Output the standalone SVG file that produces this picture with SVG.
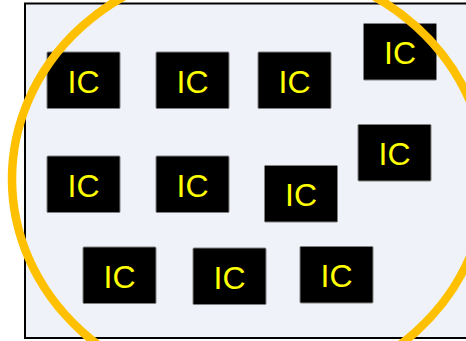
<svg xmlns="http://www.w3.org/2000/svg" width="466" height="341" viewBox="0 0 466 341">
<style>
.bg{fill:#eff3f9;stroke:#000;stroke-width:2}
.ic rect{fill:#000;stroke:#808080;stroke-width:1}
.ic text{fill:#ffff00;font-family:"Liberation Sans",Arial,sans-serif;font-size:32px;text-anchor:middle}
.ring{fill:none;stroke:#ffc000;stroke-width:8.5}
</style>
<rect class="bg" x="25" y="3.5" width="460" height="334.5"/>
<g id="ic1" class="ic"><rect x="47" y="52" width="73" height="56.5" rx="1"/><text x="83.5" y="92.5">IC</text></g>
<g id="ic2" class="ic"><rect x="156" y="52" width="73" height="56.5" rx="1"/><text x="192.5" y="92.5">IC</text></g>
<g id="ic3" class="ic"><rect x="258" y="52" width="73" height="56.5" rx="1"/><text x="294.5" y="92.5">IC</text></g>
<g id="ic4" class="ic"><rect x="363.5" y="23.5" width="73" height="56.5" rx="1"/><text x="400" y="64">IC</text></g>
<g id="ic5" class="ic"><rect x="47" y="156" width="73" height="56.5" rx="1"/><text x="83.5" y="196.5">IC</text></g>
<g id="ic6" class="ic"><rect x="156" y="156" width="73" height="56.5" rx="1"/><text x="192.5" y="196.5">IC</text></g>
<g id="ic7" class="ic"><rect x="264.5" y="165.5" width="73" height="56.5" rx="1"/><text x="301" y="206">IC</text></g>
<g id="ic8" class="ic"><rect x="358" y="124.5" width="73" height="56.5" rx="1"/><text x="394.5" y="165">IC</text></g>
<g id="ic9" class="ic"><rect x="83" y="247" width="73" height="56.5" rx="1"/><text x="119.5" y="287.5">IC</text></g>
<g id="ic10" class="ic"><rect x="193" y="248" width="73" height="56.5" rx="1"/><text x="229.5" y="288.5">IC</text></g>
<g id="ic11" class="ic"><rect x="300" y="246.5" width="73" height="56.5" rx="1"/><text x="336.5" y="287">IC</text></g>
<g id="connectors"><ellipse class="ring" cx="249" cy="179" rx="237" ry="215"/></g>
</svg>
